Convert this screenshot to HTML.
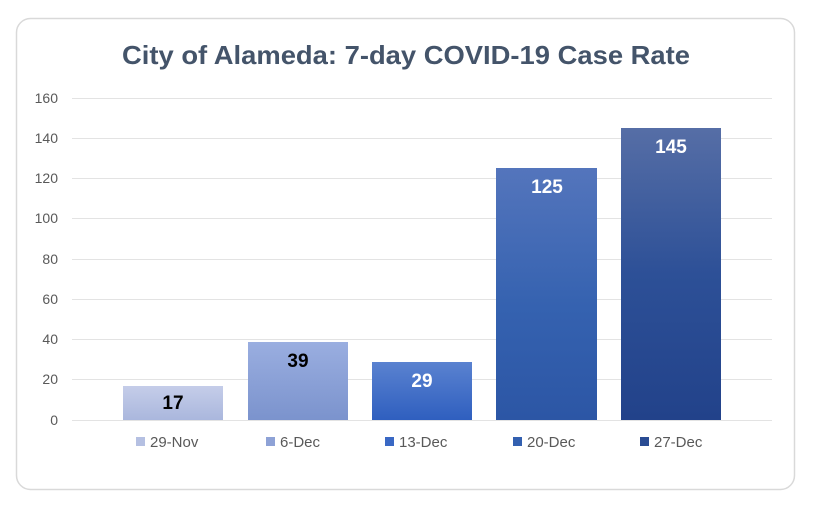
<!DOCTYPE html>
<html><head><meta charset="utf-8"><style>
body{margin:0;background:#fff;}
svg{display:block;font-family:"Liberation Sans","DejaVu Sans",sans-serif;}
</style></head><body>
<svg width="813" height="507" viewBox="0 0 813 507" xmlns="http://www.w3.org/2000/svg">
<defs>
<linearGradient id="g1" x1="0" y1="0" x2="0" y2="1"><stop offset="0" stop-color="#c5cde9"/><stop offset="1" stop-color="#aab7dd"/></linearGradient>
<linearGradient id="g2" x1="0" y1="0" x2="0" y2="1"><stop offset="0" stop-color="#9aaee0"/><stop offset="1" stop-color="#7b93cd"/></linearGradient>
<linearGradient id="g3" x1="0" y1="0" x2="0" y2="1"><stop offset="0" stop-color="#5a82d0"/><stop offset="1" stop-color="#2f5fbf"/></linearGradient>
<linearGradient id="g4" x1="0" y1="0" x2="0" y2="1"><stop offset="0" stop-color="#5475bc"/><stop offset="0.55" stop-color="#3562b0"/><stop offset="1" stop-color="#2c56a5"/></linearGradient>
<linearGradient id="g5" x1="0" y1="0" x2="0" y2="1"><stop offset="0" stop-color="#566ea6"/><stop offset="0.5" stop-color="#2d5097"/><stop offset="1" stop-color="#22428a"/></linearGradient>
</defs>
<rect x="16.5" y="18.5" width="778" height="471" rx="14" fill="#fff" stroke="#d9d9d9" stroke-width="1.5"/>
<text x="122" y="64" textLength="568" lengthAdjust="spacingAndGlyphs" font-size="26" font-weight="bold" fill="#44546a">City of Alameda: 7-day COVID-19 Case Rate</text>
<g stroke="#e3e3e3" stroke-width="1">
<line x1="72" x2="772" y1="98.5" y2="98.5"/><line x1="72" x2="772" y1="138.5" y2="138.5"/>
<line x1="72" x2="772" y1="178.5" y2="178.5"/><line x1="72" x2="772" y1="218.5" y2="218.5"/>
<line x1="72" x2="772" y1="259.5" y2="259.5"/><line x1="72" x2="772" y1="299.5" y2="299.5"/>
<line x1="72" x2="772" y1="339.5" y2="339.5"/><line x1="72" x2="772" y1="379.5" y2="379.5"/>
<line x1="72" x2="772" y1="420.5" y2="420.5"/>
</g>
<g font-size="14" fill="#595959" text-anchor="end">
<text x="58" y="103">160</text><text x="58" y="143">140</text><text x="58" y="183">120</text>
<text x="58" y="223">100</text><text x="58" y="264">80</text><text x="58" y="304">60</text>
<text x="58" y="344">40</text><text x="58" y="384">20</text><text x="58" y="425">0</text>
</g>
<rect x="123" y="386" width="100" height="34" fill="url(#g1)"/>
<rect x="248" y="342" width="100" height="78" fill="url(#g2)"/>
<rect x="372" y="362" width="100" height="58" fill="url(#g3)"/>
<rect x="496" y="168" width="101" height="252" fill="url(#g4)"/>
<rect x="621" y="128" width="100" height="292" fill="url(#g5)"/>
<g font-size="19" font-weight="bold" text-anchor="middle">
<text x="173" y="409" fill="#000">17</text>
<text x="298" y="367" fill="#000">39</text>
<text x="422" y="387" fill="#fff">29</text>
<text x="547" y="193" fill="#fff">125</text>
<text x="671" y="153" fill="#fff">145</text>
</g>
<g font-size="15" fill="#595959">
<rect x="136" y="437" width="9" height="9" fill="#b5c0e2"/><text x="150" y="447">29-Nov</text>
<rect x="266" y="437" width="9" height="9" fill="#8ea2d6"/><text x="280" y="447">6-Dec</text>
<rect x="385" y="437" width="9" height="9" fill="#3a68c4"/><text x="399" y="447">13-Dec</text>
<rect x="513" y="437" width="9" height="9" fill="#3360b0"/><text x="527" y="447">20-Dec</text>
<rect x="640" y="437" width="9" height="9" fill="#2a4c93"/><text x="654" y="447">27-Dec</text>
</g>
</svg>
</body></html>
